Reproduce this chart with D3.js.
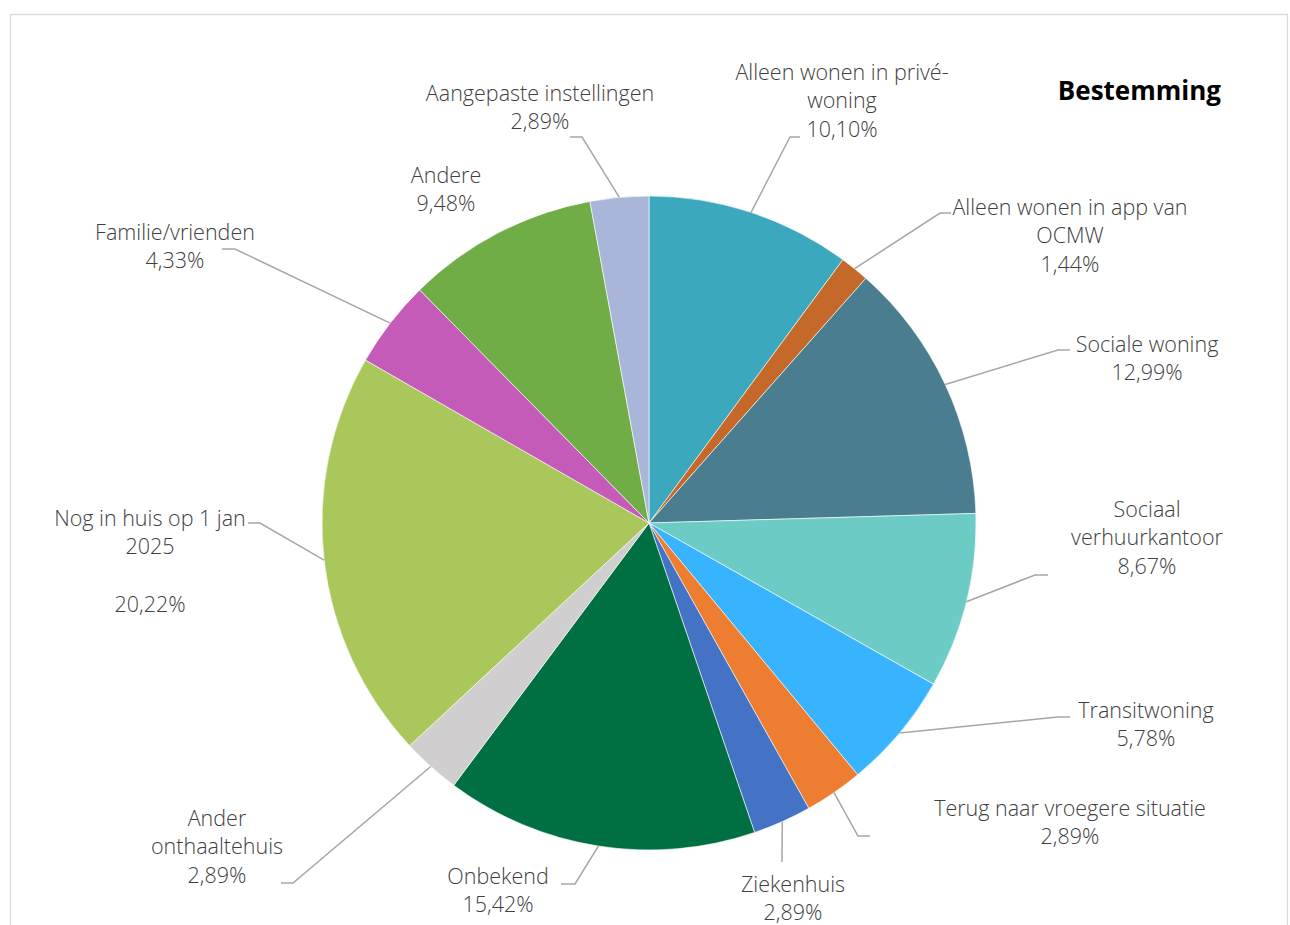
<!DOCTYPE html>
<html lang="nl">
<head>
<meta charset="UTF-8">
<title>Bestemming</title>
<script src="https://d3js.org/d3.v7.min.js"></script>
<style>
    body {
        margin: 0;
        background: #fff;
        font-family: "Open Sans", Lato, sans-serif;
    }
    .lbl {
        font-size: 21.5px;
        font-weight: 300;
        fill: #404040;
    }
    .title {
        font-size: 26px;
        font-weight: bold;
        fill: #000;
    }
    .leader {
        fill: none;
        stroke: #a6a6a6;
        stroke-width: 1.5;
    }
</style>
</head>
<body>
<div id="chart"></div>
<script>
    // data, clockwise from 12 o'clock
    const categories = [
        "Alleen wonen in privé-woning",
        "Alleen wonen in app van OCMW",
        "Sociale woning",
        "Sociaal verhuurkantoor",
        "Transitwoning",
        "Terug naar vroegere situatie",
        "Ziekenhuis",
        "Onbekend",
        "Ander onthaaltehuis",
        "Nog in huis op 1 jan 2025",
        "Familie/vrienden",
        "Andere",
        "Aangepaste instellingen"
    ];
    const values = [10.10, 1.44, 12.99, 8.67, 5.78, 2.89, 2.89, 15.42, 2.89, 20.22, 4.33, 9.48, 2.89];
    const colors = ["#3ba8be", "#c4692a", "#4a7d8f", "#6dcbc6", "#38b3fe", "#ed7d31", "#4472c4",
                    "#007042", "#d0cece", "#a9c75b", "#c55bb8", "#70ad47", "#a9b5d9"];

    // how each label wraps (last line is the percentage)
    const labelLines = [
        ["Alleen wonen in privé-", "woning"],
        ["Alleen wonen in app van", "OCMW"],
        ["Sociale woning"],
        ["Sociaal", "verhuurkantoor"],
        ["Transitwoning"],
        ["Terug naar vroegere situatie"],
        ["Ziekenhuis"],
        ["Onbekend"],
        ["Ander", "onthaaltehuis"],
        ["Nog in huis op 1 jan", "2025", ""],
        ["Familie/vrienden"],
        ["Andere"],
        ["Aangepaste instellingen"]
    ];

    // label placement: text centre x, first line y, leader elbow and end
    const labelLayout = [
        {x: 842, y: 72, elbow: [790, 137], end: 800},
        {x: 1070, y: 207, elbow: [940, 213], end: 951},
        {x: 1147, y: 344, elbow: [1058, 350], end: 1070},
        {x: 1147, y: 509, elbow: [1035, 575], end: 1048},
        {x: 1146, y: 710, elbow: [1058, 717], end: 1070},
        {x: 1070, y: 808, elbow: [858, 836], end: 870},
        {x: 793, y: 884, elbow: [782, 862], end: 782},
        {x: 498, y: 876, elbow: [575, 884], end: 561},
        {x: 217, y: 818, elbow: [293, 883], end: 281},
        {x: 150, y: 518, elbow: [260, 523], end: 248},
        {x: 175, y: 232, elbow: [235, 249], end: 222},
        {x: 446, y: 175, elbow: null, end: null},
        {x: 540, y: 93, elbow: [582, 137], end: 570}
    ];

    const width = 1290, height = 925;
    const cx = 649, cy = 523, radius = 327;
    const lineH = 28.7;

    const svg = d3.select("#chart").append("svg")
        .attr("width", width)
        .attr("height", height);

    // chart border
    svg.append("rect")
        .attr("x", 10.5).attr("y", 14.5)
        .attr("width", 1277).attr("height", 1000)
        .attr("fill", "#fff")
        .attr("stroke", "#d9d9d9")
        .attr("stroke-width", 1.3);

    const rows = categories.map((c, i) => ({name: c, value: values[i], i}));

    const pie = d3.pie().sort(null).value(d => d.value);
    const arcs = pie(rows);
    const arc = d3.arc().innerRadius(0).outerRadius(radius);

    const g = svg.append("g").attr("transform", `translate(${cx},${cy})`);

    g.selectAll("path.slice")
        .data(arcs)
        .join("path")
        .attr("class", "slice")
        .attr("d", arc)
        .attr("fill", d => colors[d.data.i])
        .attr("stroke", "#fff")
        .attr("stroke-width", 0.6);

    const fmt = v => d3.format(".2f")(v).replace(".", ",") + "%";

    // leader lines from the outer edge at mid-angle
    arcs.forEach(d => {
        const L = labelLayout[d.data.i];
        if (!L.elbow) return;
        const a = (d.startAngle + d.endAngle) / 2;
        const sx = cx + radius * Math.sin(a);
        const sy = cy - radius * Math.cos(a);
        const pts = [[sx, sy], L.elbow, [L.end, L.elbow[1]]];
        svg.append("path")
            .attr("class", "leader")
            .attr("d", d3.line()(pts));
    });

    // labels
    arcs.forEach(d => {
        const L = labelLayout[d.data.i];
        const lines = labelLines[d.data.i].concat([fmt(d.data.value)]);
        const t = svg.append("text")
            .attr("class", "lbl")
            .attr("text-anchor", "middle");
        lines.forEach((s, k) => {
            t.append("tspan")
                .attr("x", L.x)
                .attr("y", L.y + k * lineH)
                .attr("dy", "0.35em")
                .text(s);
        });
    });

    svg.append("text")
        .attr("class", "title")
        .attr("x", 1221)
        .attr("y", 91)
        .attr("dy", "0.35em")
        .attr("text-anchor", "end")
        .text("Bestemming");
</script>
</body>
</html>
